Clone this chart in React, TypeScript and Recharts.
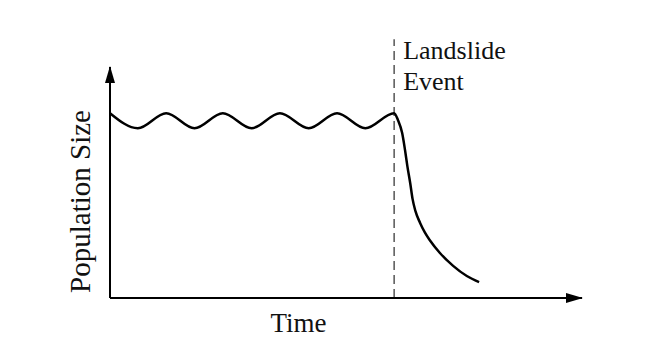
import React from 'react';
import { LineChart, Line, XAxis, YAxis, ReferenceLine, Label } from 'recharts';

// Sketch of a population crashing after a landslide
const time = [
  0, 5.9, 11.9, 17.9, 23.9, 30.0, 36.0, 42.1, 48.1, 54.1, 60.2,
  61.0, 61.9, 62.5, 63.0, 63.6, 64.1, 64.7, 65.7, 66.7, 67.8, 69.9, 72.7, 75.6, 78.2,
];
const population = [
  80, 73.5, 80, 73.5, 80, 73.5, 80, 73.5, 80, 73.5, 80,
  77.1, 71.4, 64.1, 57.1, 49.8, 42.9, 37.7, 32.5, 28.4, 24.9, 19.5, 13.9, 9.5, 6.9,
];
const landslideAt = 60.2;
const eventTop = 112;
const eventLines = ['Landslide', 'Event'];

const data = time.map((t, i) => ({ t, size: population[i] }));

const FONT = '"Liberation Serif", "Times New Roman", serif';

const App: React.FC = () => {
  return (
    <div style={{ position: 'absolute', left: 0, top: 0 }}>
      <svg width={0} height={0} style={{ position: 'absolute' }}>
        <defs>
          <marker
            id="arrow"
            markerUnits="userSpaceOnUse"
            markerWidth={18}
            markerHeight={12}
            refX={16}
            refY={6}
            orient="auto-start-reverse"
          >
            <path d="M0,1 L17,6 L0,11 z" fill="#000" />
          </marker>
        </defs>
      </svg>
      <LineChart
        width={656}
        height={352}
        data={data}
        margin={{ top: 67, right: 74, bottom: 24, left: 80 }}
      >
        <XAxis
          dataKey="t"
          type="number"
          domain={[0, 100]}
          height={30}
          tick={false}
          tickLine={false}
          axisLine={{ stroke: '#000', strokeWidth: 2, markerEnd: 'url(#arrow)' }}
        >
          <Label
            content={() => (
              <text x={298.5} y={332} textAnchor="middle" fontFamily={FONT} fontSize={27} fill="#111">
                Time
              </text>
            )}
          />
        </XAxis>
        <YAxis
          type="number"
          domain={[0, 100]}
          width={30}
          tick={false}
          tickLine={false}
          axisLine={{ stroke: '#000', strokeWidth: 2, markerStart: 'url(#arrow)' }}
        >
          <Label
            content={() => (
              <text
                x={90}
                y={201.5}
                transform="rotate(-90, 90, 201.5)"
                textAnchor="middle"
                fontFamily={FONT}
                fontSize={29}
                fill="#111"
              >
                Population Size
              </text>
            )}
          />
        </YAxis>
        <ReferenceLine
          segment={[
            { x: landslideAt, y: 0 },
            { x: landslideAt, y: eventTop },
          ]}
          ifOverflow="visible"
          stroke="#555"
          strokeWidth={1.5}
          strokeDasharray="9 5"
          label={(props: any) => {
            const vb = props.viewBox || {};
            const x = (vb.x ?? 394) + 9;
            const y = vb.y ?? 40;
            return (
              <text x={x} y={y} fontFamily={FONT} fontSize={26} fill="#111">
                {eventLines.map((s, i) => (
                  <tspan key={s} x={x} y={y + 20 + i * 31}>
                    {s}
                  </tspan>
                ))}
              </text>
            );
          }}
        />
        <Line
          type="monotone"
          dataKey="size"
          stroke="#000"
          strokeWidth={2.5}
          dot={false}
          isAnimationActive={false}
        />
      </LineChart>
    </div>
  );
};

export default App;
